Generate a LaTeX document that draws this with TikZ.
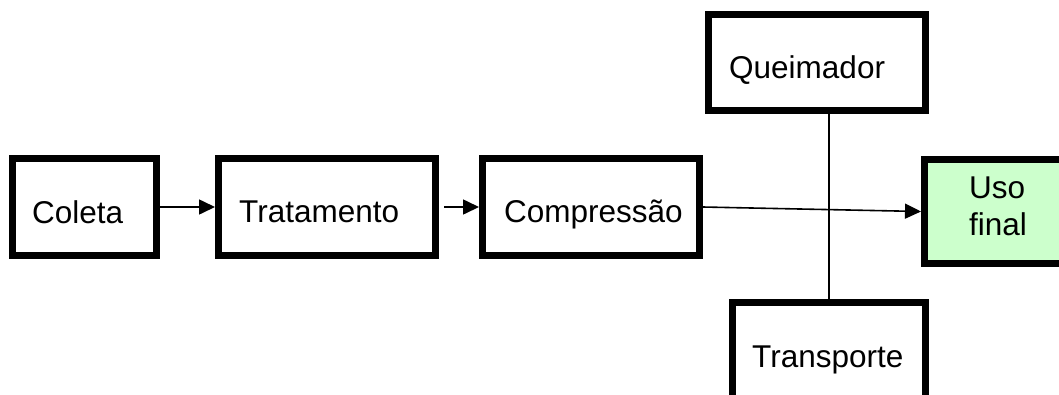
\documentclass[tikz,border=0pt]{standalone}
\usepackage{fontspec}
\setmainfont{Liberation Sans}
\usetikzlibrary{arrows.meta}
\definecolor{usogreen}{HTML}{CCFFCC}
\begin{document}
\begin{tikzpicture}[x=1pt,y=-1pt,
  box/.style={draw, line width=7.3pt, fill=white, minimum width=#1, minimum height=96.7pt, inner sep=0pt},
  lbl/.style={anchor=base west, inner sep=0pt, font=\fontsize{31.5}{37}\selectfont},
  lblc/.style={anchor=base, inner sep=0pt, font=\fontsize{31.5}{37}\selectfont},
  thinline/.style={line width=1.6pt},
  arr/.style={thinline, -{Triangle[length=16pt,width=15pt]}}]
\useasboundingbox (0,0) rectangle (1059,394);
\clip (0,0) rectangle (1059,394);
% boxes
\node[box=143.7pt] (coleta) at (84.5,207) {};
\node[box=216.7pt] (trat) at (327,207) {};
\node[box=216.7pt] (comp) at (591,207) {};
\node[box=216.7pt, minimum height=95.7pt] (queim) at (817,62.5) {};
\node[box=192.7pt] (transp) at (829,351) {};
\node[box=146.7pt, minimum height=103.7pt, fill=usogreen] (uso) at (998,211.5) {};
% texts
\node[lbl] (coleta-t) at (32,223) {Coleta};
\node[lbl] (trat-t) at (239,222) {Tratamento};
\node[lbl] (comp-t) at (504,222) {Compressão};
\node[lbl] (queim-t) at (729,78) {Queimador};
\node[lbl] (transp-t) at (752,367) {Transporte};
\node[lblc] (uso-t1) at (997,198) {Uso};
\node[lblc] (uso-t2) at (998,235) {final};
% connectors
\draw[arr] (coleta.east) -- (trat.west);
\draw[arr, shorten <=5pt] (trat.east) -- (comp.west);
\draw[arr] (comp.east) -- (uso.west);
\draw[thinline] (queim.south -| transp.north) -- (transp.north);
\end{tikzpicture}
\end{document}
